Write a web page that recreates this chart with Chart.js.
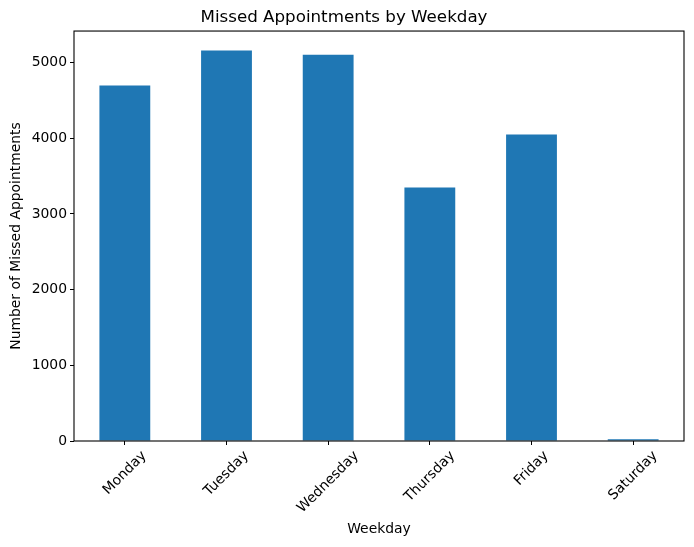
<!DOCTYPE html>
<html>
<head>
<meta charset="utf-8">
<script src="https://cdn.jsdelivr.net/npm/chart.js@4"></script>
<style>
  html, body { margin: 0; padding: 0; background: #fff; }
  #wrap { width: 694px; height: 547px; }
</style>
</head>
<body>
<div id="wrap"><canvas id="chart" width="694" height="547"></canvas></div>
<script>
// data
const weekdays = ["Monday", "Tuesday", "Wednesday", "Thursday", "Friday", "Saturday"];
const missedCounts = [4695, 5158, 5104, 3350, 4050, 22];
const yTicks = [0, 1000, 2000, 3000, 4000, 5000];

const FONT = "'DejaVu Sans', sans-serif";
const TICK_PX = 13.9;

// frame around the plot area, like matplotlib's spines
const framePlugin = {
  id: "frame",
  afterDraw(chart) {
    const { ctx, chartArea: a } = chart;
    ctx.save();
    ctx.strokeStyle = "#000";
    ctx.lineWidth = 1.1;
    ctx.strokeRect(a.left, a.top, a.right - a.left, a.bottom - a.top);
    ctx.restore();
  }
};

// x labels rotated 45deg, centred on the tick (Chart.js right-aligns rotated ones)
const xLabelPlugin = {
  id: "xLabels",
  afterDraw(chart) {
    const { ctx } = chart;
    const x = chart.scales.x;
    const top = chart.chartArea.bottom + 7;
    ctx.save();
    ctx.font = TICK_PX + "px " + FONT;
    ctx.fillStyle = "#000";
    ctx.textAlign = "center";
    ctx.textBaseline = "middle";
    weekdays.forEach((lbl, i) => {
      const w = ctx.measureText(lbl).width;
      const h = TICK_PX * 1.15;
      const cy = top + (w + h) * Math.SQRT1_2 / 2;
      ctx.save();
      ctx.translate(x.getPixelForTick(i), cy);
      ctx.rotate(-Math.PI / 4);
      ctx.fillText(lbl, 0, 0);
      ctx.restore();
    });
    ctx.restore();
  }
};

new Chart(document.getElementById("chart"), {
  type: "bar",
  data: {
    labels: weekdays,
    datasets: [{
      data: missedCounts,
      backgroundColor: "#1f77b4",
      borderWidth: 0,
      categoryPercentage: 1,
      barPercentage: 0.5
    }]
  },
  options: {
    responsive: false,
    animation: false,
    layout: { padding: { left: 4, right: 10, top: 0, bottom: 5 } },
    plugins: {
      legend: { display: false },
      tooltip: { enabled: false },
      title: {
        display: true,
        text: "Missed Appointments by Weekday",
        color: "#000",
        font: { family: FONT, size: 16.7, weight: "normal" },
        padding: { top: 8, bottom: 3 }
      }
    },
    scales: {
      x: {
        border: { display: false },
        grid: { offset: false, drawOnChartArea: false, drawTicks: true, tickLength: 4, color: "#000", lineWidth: 1 },
        ticks: { display: false },
        title: {
          display: true,
          text: "Weekday",
          color: "#000",
          font: { family: FONT, size: TICK_PX },
          padding: { top: 4, bottom: 4 }
        },
        afterFit(s) { s.height = 101; }
      },
      y: {
        min: 0,
        max: Math.max(...missedCounts) * 1.05,
        border: { display: false },
        grid: { drawOnChartArea: false, drawTicks: true, tickLength: 4, color: "#000", lineWidth: 1 },
        ticks: {
          color: "#000",
          padding: 3,
          font: { family: FONT, size: TICK_PX },
          callback: v => String(v)
        },
        afterBuildTicks(s) {
          s.ticks = yTicks.map(v => ({ value: v }));
        },
        title: {
          display: true,
          text: "Number of Missed Appointments",
          color: "#000",
          font: { family: FONT, size: TICK_PX },
          padding: { top: 4, bottom: 4 }
        },
        afterFit(s) { s.width = 70; }
      }
    }
  },
  plugins: [framePlugin, xLabelPlugin]
});
</script>
</body>
</html>
